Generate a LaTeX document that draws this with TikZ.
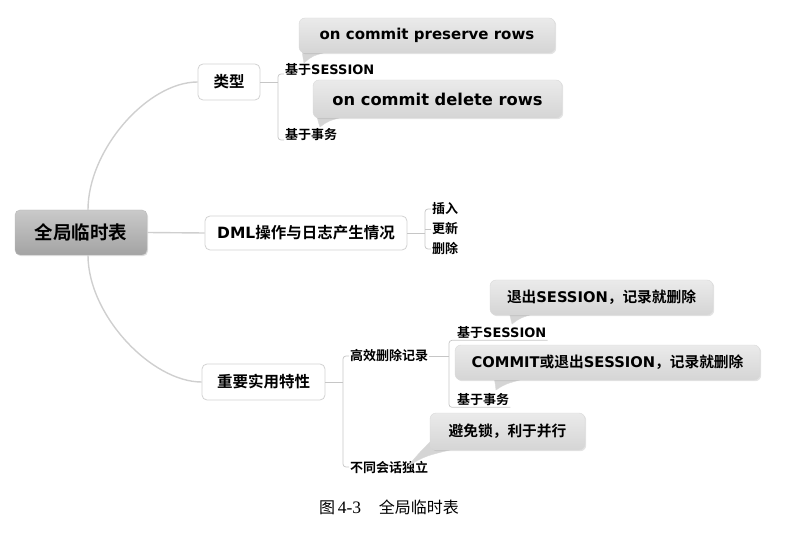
\documentclass[tikz,border=0pt]{standalone}
\usepackage{fontspec}
\setmainfont{DejaVu Sans}
\newfontfamily\cjk[BoldFont={Noto Sans CJK SC Bold}]{Noto Sans CJK SC}
\newfontfamily\serifnum{Liberation Serif}
\usetikzlibrary{shadows}
\newcommand\hz[1]{{\cjk #1}}
\begin{document}
\begin{tikzpicture}[x=1pt,y=-1pt,
  rootbox/.style={rounded corners=5pt, top color=gray!42, bottom color=gray!72, draw=gray!55,
    minimum width=132pt, minimum height=45pt, inner sep=0pt,
    font=\cjk\bfseries\fontsize{18.5}{22}\selectfont,
    drop shadow={opacity=.25,shadow xshift=1pt,shadow yshift=-1.2pt}},
  topic/.style={rounded corners=5pt, draw=gray!35, line width=0.8pt, fill=white, inner sep=0pt,
    font=\bfseries\fontsize{15.5}{18}\selectfont},
  lbl/.style={inner sep=1pt, anchor=west, font=\bfseries\fontsize{13}{15}\selectfont},
  callout/.style={rounded corners=6pt, top color=gray!16, bottom color=gray!33, draw=gray!30,
    inner sep=0pt, font=\bfseries\fontsize{14.7}{17}\selectfont,
    drop shadow={opacity=.22,shadow xshift=1.2pt,shadow yshift=-1.2pt}},
  tail/.style={fill=gray!33, draw=gray!30, line width=0.4pt},
  conn/.style={draw=gray!38, line width=1.4pt},
  br/.style={draw=gray!45, line width=0.7pt, rounded corners=3pt}]
\useasboundingbox (0,0) rectangle (803,537);

% main nodes
\node[rootbox] (root) at (81,232.5) {全局临时表};
\node[topic, minimum width=62pt, minimum height=36pt] (type) at (229,82) {\hz{类型}};
\node[topic, minimum width=202pt, minimum height=34pt] (dml) at (306,233) {DML\hz{操作与日志产生情况}};
\node[topic, minimum width=123pt, minimum height=36pt] (imp) at (263.5,382) {\hz{重要实用特性}};

% labels
\node[lbl] (s1) at (284,70) {\hz{基于}SESSION};
\node[lbl] (t1) at (284,135) {\hz{基于事务}};
\node[lbl] (ins) at (431,209) {\hz{插入}};
\node[lbl] (upd) at (431,229) {\hz{更新}};
\node[lbl] (del) at (431,249) {\hz{删除}};
\node[lbl] (eff) at (349,356) {\hz{高效删除记录}};
\node[lbl] (ind) at (349,467) {\hz{不同会话独立}};
\node[lbl] (s2) at (456,333) {\hz{基于}SESSION};
\node[lbl] (t2) at (456,400) {\hz{基于事务}};

% bracket x positions
\coordinate (bx1) at (278,0);
\coordinate (bx2) at (425,0);
\coordinate (bx3) at (343,0);
\coordinate (bx4) at (449,0);

% root connectors
\draw[conn] ([xshift=7pt]root.north) .. controls +(0,-60) and +(-50,0) .. (type.west);
\draw[conn] ([xshift=7pt]root.south) .. controls +(0,60) and +(-50,0) .. (imp.west);
\draw[conn] (root.east) -- (dml.west);

% brackets
\draw[br] (type.east) -- (type.east -| bx1);
\draw[br] ([yshift=-4pt]s1.west) -- ([yshift=-4pt]s1.west -| bx1) -- ([yshift=-5pt]t1.west -| bx1) -- ([yshift=-5pt]t1.west);

\draw[br] (dml.east) -- (dml.east -| bx2);
\draw[br] (ins.west) -- (ins.west -| bx2) -- (del.west -| bx2) -- (del.west);
\draw[br] (upd.west -| bx2) -- (upd.west);

\draw[br] (imp.east) -- (imp.east -| bx3);
\draw[br] (eff.west) -- (eff.west -| bx3) -- (ind.west -| bx3) -- (ind.west);

\draw[br] (eff.east) -- (eff.east -| bx4);
\draw[br] (s2.south east) -- (s2.south west) -- (s2.south west -| bx4) -- (t2.south west -| bx4) -- (t2.south west) -- (t2.south east);

% callouts (tails first)
\draw[tail] (303,44) .. controls (302,52) .. (304,63) .. controls (312,56) .. (330,51) -- cycle;
\node[callout, minimum width=256pt, minimum height=35pt, font=\bfseries\fontsize{15}{18}\selectfont] (c1) at (427,35.5) {on commit preserve rows};

\draw[tail] (317,108) .. controls (317,118) .. (320,127) .. controls (328,121) .. (346,116) -- cycle;
\node[callout, minimum width=249pt, minimum height=38pt, font=\bfseries\fontsize{16.3}{19}\selectfont] (c2) at (437.5,99) {on commit delete rows};

\draw[tail] (508,307) .. controls (510,316) .. (512,324) .. controls (520,318) .. (536,313) -- cycle;
\node[callout, minimum width=223pt, minimum height=35pt] (c3) at (601.5,297.5) {\hz{退出}SESSION\hz{，记录就删除}};

\draw[tail] (493,372) .. controls (495,382) .. (496,390) .. controls (505,384) .. (527,378) -- cycle;
\node[callout, minimum width=305pt, minimum height=35pt] (c4) at (607.5,362.5) {COMMIT\hz{或退出}SESSION\hz{，记录就删除}};

\draw[tail] (434,438) .. controls (420,452) .. (408,466) .. controls (425,456) .. (458,448) -- cycle;
\node[callout, minimum width=155pt, minimum height=37pt] (c5) at (507.5,431.5) {\hz{避免锁，利于并行}};

% caption
\node[inner sep=0pt, font=\fontsize{16}{19}\selectfont] (cap) at (389,507) {\hz{图}\,{\serifnum\fontsize{17.5}{19}\selectfont 4-3}\hspace{1.1em}\hz{全局临时表}};
\end{tikzpicture}
\end{document}
